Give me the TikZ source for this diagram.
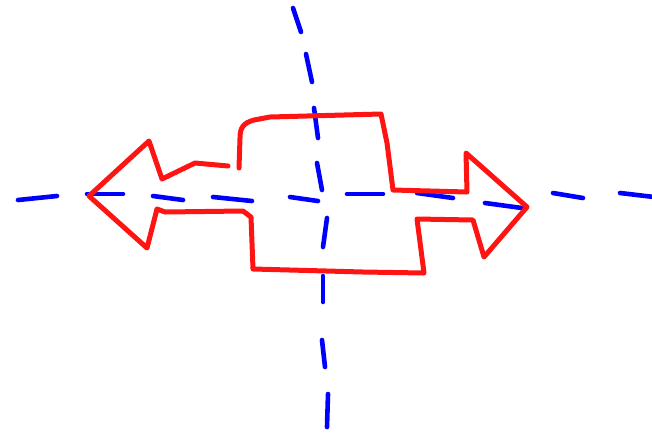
\documentclass[tikz,border=0pt]{standalone}
\begin{document}
\begin{tikzpicture}[x=1pt,y=-1pt,
  redline/.style={draw={rgb,255:red,255;green,20;blue,20},line width=5pt,line join=round,line cap=round},
  bluedash/.style={draw={rgb,255:red,0;green,0;blue,255},line width=4.6pt,line cap=round}]
\useasboundingbox (0,0) rectangle (652,432);
% horizontal dashed axis
\foreach \a/\b in {{(18,200)}/{(57,196)},{(87,194)}/{(123,194)},{(153,196)}/{(183,200)},{(213,197)}/{(252,201)},{(290,197)}/{(318,201)},{(347,194)}/{(383,194)},{(417,193)}/{(453,198)},{(485,203)}/{(522,208)},{(553,193)}/{(583,198)},{(620,193)}/{(654,197)}}
  \draw[bluedash] \a -- \b;
% vertical dashed axis
\foreach \a/\b in {{(293,8)}/{(301,32)},{(306,54)}/{(312,82)},{(314,108)}/{(318,138)},{(317,163)}/{(322,190)},{(327,218)}/{(323,247)},{(323,276)}/{(323,302)},{(322,340)}/{(325,367)},{(328,394)}/{(327,427)}}
  \draw[bluedash] \a -- \b;
% red double arrow outline
\draw[redline] (228,166) -- (195,163) -- (162,179) -- (149,141) -- (89,196)
  -- (147,248) -- (157,209) -- (165,212) -- (243,211) -- (251,217) -- (253,269)
  -- (363,272) -- (424,273) -- (417,219) -- (473,220) -- (484,257) -- (527,207)
  -- (466,153) -- (467,192) -- (393,190) -- (387,143) -- (381,114) -- (270,117)
  -- (254,120) .. controls (243,123) and (240,128) .. (240,138) -- (239,168);
\end{tikzpicture}
\end{document}
